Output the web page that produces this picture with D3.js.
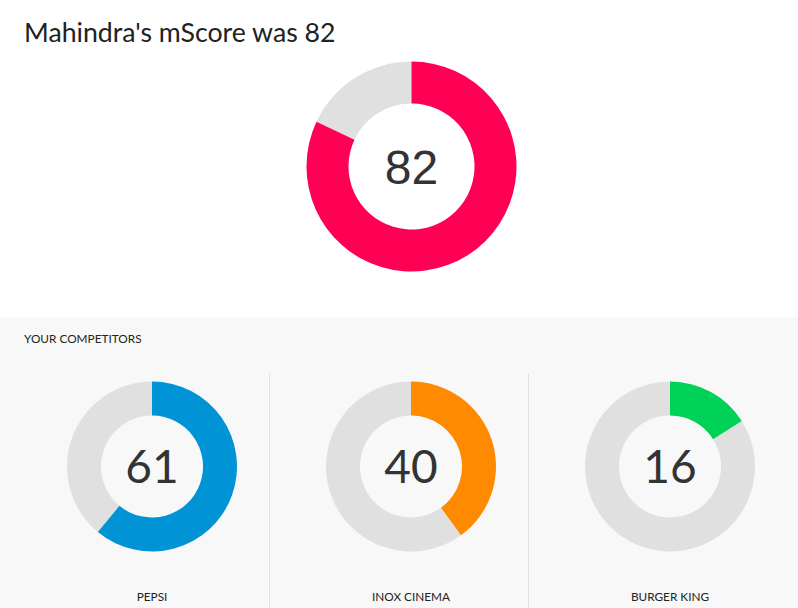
<!DOCTYPE html>
<html>
<head>
<meta charset="utf-8">
<script src="https://cdn.jsdelivr.net/npm/d3@7"></script>
<style>
  body { margin: 0; background: #fff; }
  svg { display: block; font-family: Lato, "Open Sans", sans-serif; }
</style>
</head>
<body>
<svg id="chart" width="798" height="608"></svg>
<script>
// Data
const brand = "Mahindra";
const brandScore = 82;
const brandColor = "#ff0055";

const competitors = ["PEPSI", "INOX CINEMA", "BURGER KING"];
const competitorScores = [61, 40, 16];
const competitorColors = ["#0094d6", "#ff8a00", "#00d157"];

const maxScore = 100;
const trackColor = "#e0e0e0";

const svg = d3.select("#chart");
const width = +svg.attr("width");
const height = +svg.attr("height");

// score -> angle
const angle = d3.scaleLinear().domain([0, maxScore]).range([0, 2 * Math.PI]);

function drawDonut(g, score, color, outer, fontSize, fontFamily) {
    const arc = d3.arc().innerRadius(outer * 0.6).outerRadius(outer);
    g.append("path")
        .attr("d", arc({ startAngle: angle(score), endAngle: angle(maxScore) }))
        .attr("fill", trackColor);
    g.append("path")
        .attr("d", arc({ startAngle: 0, endAngle: angle(score) }))
        .attr("fill", color);
    g.append("text")
        .attr("text-anchor", "middle")
        .attr("dy", "0.36em")
        .attr("font-size", fontSize)
        .attr("font-family", fontFamily)
        .attr("fill", "#333")
        .text(score);
}

// Title
svg.append("text")
    .attr("x", 24)
    .attr("y", 42)
    .attr("font-size", 26.7)
    .attr("fill", "#222")
    .text(`${brand}'s mScore was ${brandScore}`);

// Main donut
drawDonut(svg.append("g").attr("transform", "translate(411.5,166.5)"),
    brandScore, brandColor, 105, 48, "'Liberation Sans', Arial, sans-serif");

// Competitors panel
const panelTop = 317;
svg.append("rect")
    .attr("x", 0).attr("y", panelTop)
    .attr("width", width).attr("height", height - panelTop)
    .attr("fill", "#f8f8f8");

svg.append("text")
    .attr("x", 24)
    .attr("y", 343)
    .attr("font-size", 11.8)
    .attr("fill", "#222")
    .text("YOUR COMPETITORS");

const x = d3.scalePoint()
    .domain(competitors)
    .range([152, 670]);

// dividers between columns
[269.5, 528.5].forEach(dx => {
    svg.append("line")
        .attr("x1", dx).attr("x2", dx)
        .attr("y1", 374).attr("y2", height)
        .attr("stroke", "#e0e0e0")
        .attr("stroke-width", 1);
});

competitors.forEach((name, i) => {
    const g = svg.append("g").attr("transform", `translate(${x(name)},466.5)`);
    drawDonut(g, competitorScores[i], competitorColors[i], 85, 46, "Lato, sans-serif");
    svg.append("text")
        .attr("x", x(name))
        .attr("y", 601)
        .attr("text-anchor", "middle")
        .attr("font-size", 11.8)
        .attr("fill", "#222")
        .text(name);
});
</script>
</body>
</html>
